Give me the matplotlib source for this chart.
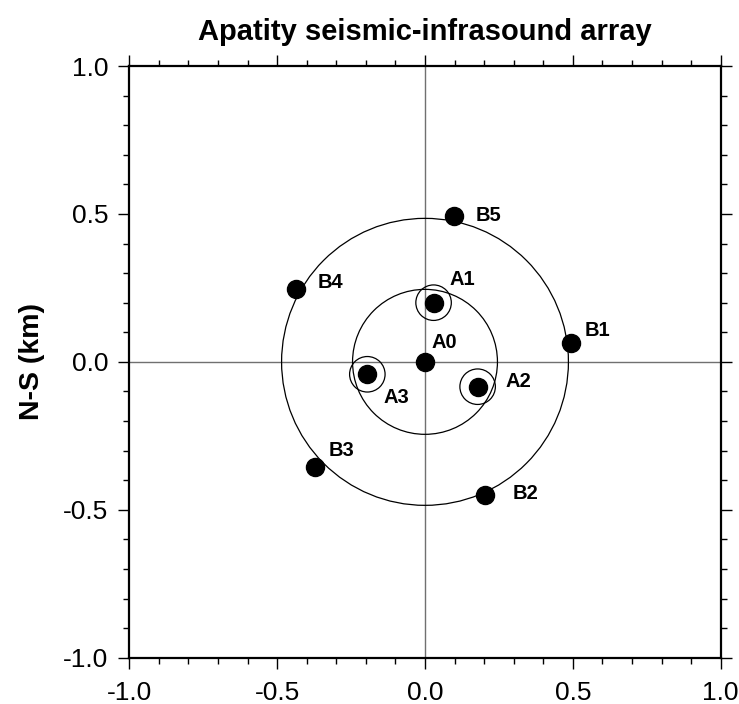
import numpy as np
import matplotlib.pyplot as plt
from matplotlib.patches import Circle
from matplotlib.ticker import MultipleLocator

# station coordinates (km)
names = ['A0', 'A1', 'A2', 'A3', 'B1', 'B2', 'B3', 'B4', 'B5']
x_km = [0.0, 0.029, 0.178, -0.195, 0.494, 0.203, -0.372, -0.436, 0.098]
y_km = [0.0, 0.200, -0.084, -0.042, 0.064, -0.450, -0.355, 0.245, 0.494]

# label offsets in points from each station
lab_dx = [14, 21, 29, 21, 19, 29, 19, 25, 25]
lab_dy = [14, 17, 4, -17, 9, 1, 12, 5, 0]

ring_radii = [0.245, 0.485]
inner_ring_stations = ['A1', 'A2', 'A3']
small_ring_r = 0.06

plt.rcParams['font.family'] = ['Liberation Sans', 'DejaVu Sans']

fig = plt.figure(figsize=(7.39, 7.04), dpi=100)
ax = fig.add_axes([129.3 / 739, 1 - 657.7 / 704, 591.4 / 739, 591.7 / 704])

ax.axhline(0, color='#707070', lw=1.0, zorder=1)
ax.axvline(0, color='#707070', lw=1.0, zorder=1)

for r in ring_radii:
    ax.add_patch(Circle((0, 0), r, fill=False, ec='black', lw=0.9, zorder=2))

for n, x, y in zip(names, x_km, y_km):
    if n in inner_ring_stations:
        ax.add_patch(Circle((x, y), small_ring_r, fill=False, ec='black',
                            lw=0.9, zorder=2))

ax.plot(x_km, y_km, 'o', color='black', ms=13, zorder=3)

for n, x, y, dx, dy in zip(names, x_km, y_km, lab_dx, lab_dy):
    ax.annotate(n, (x, y), xytext=(dx, dy), textcoords='offset points',
                ha='center', va='center', fontsize=14.5, fontweight='bold')

ax.set_xlim(-1, 1)
ax.set_ylim(-1, 1)
ax.xaxis.set_major_locator(MultipleLocator(0.5))
ax.yaxis.set_major_locator(MultipleLocator(0.5))
ax.xaxis.set_minor_locator(MultipleLocator(0.1))
ax.yaxis.set_minor_locator(MultipleLocator(0.1))
ax.xaxis.set_major_formatter(lambda v, p: '%.1f' % v)
ax.yaxis.set_major_formatter(lambda v, p: '%.1f' % v)
ax.tick_params(which='both', direction='out', top=True, right=True,
               labelsize=19, width=1.0)
ax.tick_params(which='major', length=8, pad=7)
ax.tick_params(axis='x', which='major', pad=9)
ax.tick_params(which='minor', length=4)

for s in ax.spines.values():
    s.set_linewidth(1.6)

ax.set_title('Apatity seismic-infrasound array', fontsize=21,
             fontweight='bold', pad=19)
ax.set_ylabel('N-S (km)', fontsize=20.5, fontweight='bold', labelpad=13)

fig.savefig('out.png', dpi=100)
